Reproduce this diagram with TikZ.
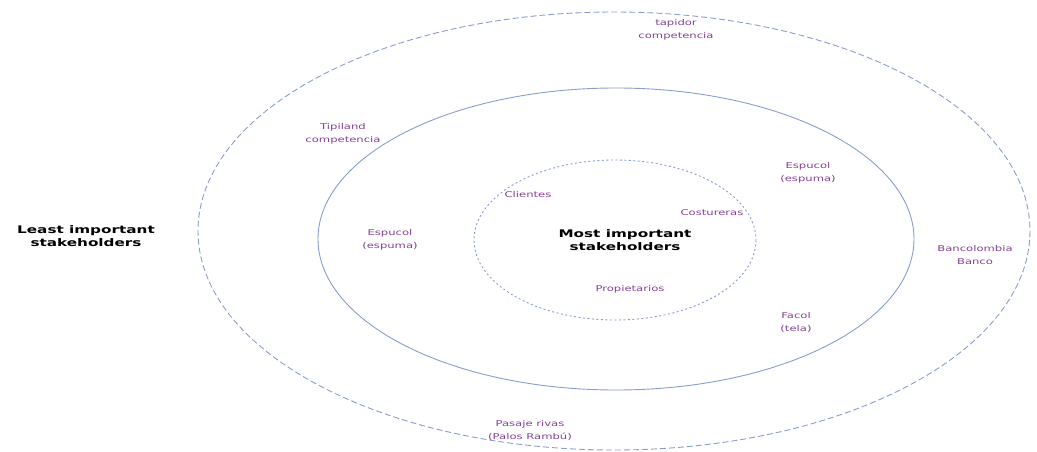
\documentclass[tikz,border=0pt]{standalone}
\usepackage{fontspec}
\setmainfont[FakeStretch=1.45]{DejaVu Sans}
\definecolor{lbl}{HTML}{853F96}
\definecolor{ring}{HTML}{8A9DD0}
\begin{document}
\begin{tikzpicture}[x=1pt,y=-1pt,
  lab/.style={text=lbl,font=\fontsize{8}{13}\selectfont,align=center,inner sep=0pt},
  head/.style={text=black,font=\fontsize{10.5}{13.5}\selectfont\bfseries,align=center,inner sep=0pt},
  outerring/.style={draw=ring,line width=0.9pt,dash pattern=on 6pt off 3pt},
  midring/.style={draw=ring,line width=0.9pt},
  innerring/.style={draw=ring,line width=0.9pt,dash pattern=on 2pt off 2.5pt}]
\useasboundingbox (0,0) rectangle (1037,452);
\draw[outerring] (614,231) ellipse [x radius=416, y radius=219];
\draw[midring] (616,239) ellipse [x radius=298, y radius=151];
\draw[innerring] (615,240) ellipse [x radius=141, y radius=80];
\node[head] (least) at (86,236) {Least important\\stakeholders};
\node[head] (most) at (625,240) {Most important\\stakeholders};
\node[lab] (tapidor) at (676,30) {tapidor\\competencia};
\node[lab] (tipiland) at (343,134) {Tipiland\\competencia};
\node[lab] (espR) at (808,173) {Espucol\\(espuma)};
\node[lab] (clientes) at (528,195) {Clientes};
\node[lab] (cost) at (712,213) {Costureras};
\node[lab] (espL) at (390,240) {Espucol\\(espuma)};
\node[lab] (prop) at (630,289) {Propietarios};
\node[lab] (banco) at (975,255) {Bancolombia\\Banco};
\node[lab] (facol) at (796,322) {Facol\\(tela)};
\node[lab] (pasaje) at (530,430) {Pasaje rivas\\(Palos Rambú)};
\end{tikzpicture}
\end{document}
